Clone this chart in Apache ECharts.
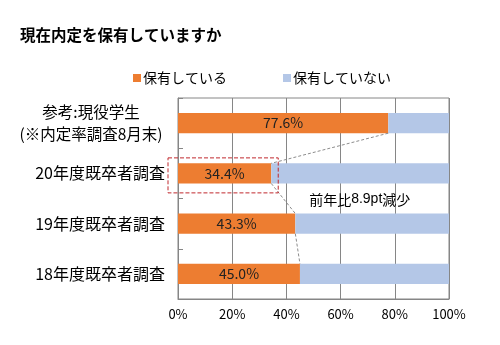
<!DOCTYPE html>
<html>
<head>
<meta charset="utf-8">
<script src="https://cdn.jsdelivr.net/npm/echarts@6/dist/echarts.min.js"></script>
<style>
  html, body { margin: 0; padding: 0; background: #fff; }
  #chart { width: 500px; height: 345px; }
</style>
</head>
<body>
<div id="chart"></div>
<script>
// Survey categories, top to bottom
const categories = [
  '参考:現役学生\n(※内定率調査8月末)',
  '20年度既卒者調査',
  '19年度既卒者調査',
  '18年度既卒者調査'
];
// Share holding a job offer (%)
const heldValues = [77.6, 34.4, 43.3, 45.0];
// Share not holding a job offer (%)
const notHeldValues = [22.4, 65.6, 56.7, 55.0];
// Value axis ticks (%)
const xTicks = [0, 20, 40, 60, 80, 100];

const seriesNames = ['保有している', '保有していない'];
const FONT = '"Noto Sans CJK JP", "Noto Sans", sans-serif';
const ORANGE = '#ED7D31';
const BLUE = '#B4C7E7';

const chart = echarts.init(document.getElementById('chart'), null, { renderer: 'canvas' });

// Connector segments between consecutive bar ends (Excel-style series lines)
const connectorData = [];
for (let i = 0; i < heldValues.length - 1; i++) {
  connectorData.push([heldValues[i], i, heldValues[i + 1], i + 1]);
}

const BAR_RATIO = 0.4;

// Multi-line category labels are centred line by line inside a right-aligned block
function categoryLabel(value) {
  if (value.indexOf('\n') < 0) return value;
  return value.split('\n').map(s => '{c|' + s + '}').join('\n');
}

const option = {
  animation: false,
  title: {
    text: '現在内定を保有していますか',
    left: 15,
    top: 22,
    textStyle: { fontFamily: FONT, fontSize: 15.5, fontWeight: 'bold', color: '#000' }
  },
  legend: {
    data: seriesNames,
    left: 128,
    top: 66,
    itemWidth: 8,
    itemHeight: 8,
    itemGap: 56,
    icon: 'rect',
    textStyle: { fontFamily: FONT, fontSize: 14, color: '#000', padding: [0, 0, 0, -3] }
  },
  grid: {
    left: 178, right: 51, top: 98, bottom: 46,
    show: true, borderColor: '#868686', borderWidth: 1
  },
  xAxis: {
    type: 'value',
    min: xTicks[0],
    max: xTicks[xTicks.length - 1],
    interval: 20,
    axisLine: { show: true, lineStyle: { color: '#868686' } },
    axisTick: { show: false },
    splitLine: { show: true, lineStyle: { color: '#868686', width: 1 } },
    axisLabel: {
      formatter: v => v + '%',
      fontFamily: FONT, fontSize: 13, color: '#000', margin: 9
    }
  },
  yAxis: {
    type: 'category',
    inverse: true,
    data: categories,
    axisLine: { show: true, lineStyle: { color: '#868686' } },
    axisTick: { show: true, inside: true, length: 5, lineStyle: { color: '#868686' } },
    axisLabel: {
      fontFamily: FONT, fontSize: 16, color: '#000', margin: 13,
      align: 'right',
      formatter: categoryLabel,
      rich: {
        c: { fontFamily: FONT, fontSize: 15.5, color: '#000', width: 148, align: 'center', lineHeight: 22 }
      }
    }
  },
  series: [
    {
      name: seriesNames[0],
      type: 'bar',
      stack: 'total',
      data: heldValues,
      barCategoryGap: '60%',
      itemStyle: { color: ORANGE },
      label: {
        show: true, position: 'inside',
        formatter: p => p.value.toFixed(1) + '%',
        fontFamily: FONT, fontSize: 14, color: '#222'
      }
    },
    {
      name: seriesNames[1],
      type: 'bar',
      stack: 'total',
      data: notHeldValues,
      barCategoryGap: '60%',
      itemStyle: { color: BLUE }
    },
    {
      name: 'connector',
      type: 'custom',
      data: connectorData,
      silent: true,
      z: 5,
      renderItem: function (params, api) {
        const band = api.size([0, 1])[1];
        const half = band * BAR_RATIO / 2;
        const a = api.coord([api.value(0), api.value(1)]);
        const b = api.coord([api.value(2), api.value(3)]);
        return {
          type: 'line',
          shape: { x1: a[0], y1: a[1] + half, x2: b[0], y2: b[1] - half },
          style: { stroke: '#8c8c8c', lineWidth: 1, lineDash: [3, 2] }
        };
      }
    }
  ]
};

chart.setOption(option);

// Highlight box around the latest graduate survey and the year-on-year note
const hi = 1;
const pEnd = chart.convertToPixel({ gridIndex: 0 }, [heldValues[hi], hi]);
const pNext = chart.convertToPixel({ gridIndex: 0 }, [70, hi + 1]);
const gridLeft = option.grid.left;
const diff = (heldValues[hi + 1] - heldValues[hi]).toFixed(1);

chart.setOption({
  graphic: [
    {
      type: 'rect',
      shape: { x: gridLeft - 10, y: pEnd[1] - 15.5, width: pEnd[0] + 7 - (gridLeft - 10), height: 35 },
      style: { fill: 'none', stroke: '#C0282D', lineWidth: 1, lineDash: [4, 2] },
      z: 10
    },
    {
      type: 'text',
      x: pNext[0] - 8,
      y: (pEnd[1] + pNext[1]) / 2 + 1,
      style: {
        text: '前年比{n|' + diff + 'pt}減少',
        rich: { n: { fontFamily: '"Liberation Sans", sans-serif', fontSize: 14, fill: '#000' } },
        fontFamily: FONT, fontSize: 14, fill: '#000',
        align: 'center', verticalAlign: 'middle'
      },
      z: 10
    }
  ]
});
</script>
</body>
</html>
